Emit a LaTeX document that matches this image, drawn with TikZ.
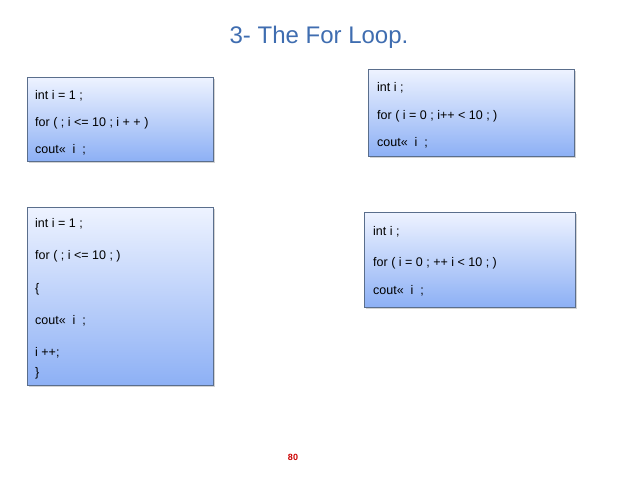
\documentclass[tikz,border=0pt]{standalone}
\usepackage{fontspec}
\setmainfont{Liberation Sans}
\usetikzlibrary{shadows}
\definecolor{bord}{HTML}{5A6E8C}
\definecolor{topc}{HTML}{EEF3FF}
\definecolor{botc}{HTML}{8DB0F5}
\definecolor{titc}{HTML}{3F6DB0}
\tikzset{
 codebox/.style={draw=bord,line width=0.8pt,top color=topc,bottom color=botc,drop shadow={opacity=0.35,shadow xshift=2pt,shadow yshift=-2pt},inner sep=0pt},
 codeline/.style={anchor=west,inner sep=0pt,font=\fontsize{12.5}{14}\selectfont}
}
\begin{document}
\begin{tikzpicture}[x=1pt,y=-1pt]
\useasboundingbox (0,0) rectangle (638,479);
\node[font=\fontsize{24}{28}\selectfont,text=titc] (title) at (319,37) {3- The For Loop.};
\node[codebox,minimum width=186pt,minimum height=84pt] (b1) at (120,119) {};
\node[codebox,minimum width=206pt,minimum height=87pt] (b2) at (471,112.5) {};
\node[codebox,minimum width=186pt,minimum height=178pt] (b3) at (120,296) {};
\node[codebox,minimum width=211pt,minimum height=95pt] (b4) at (469.5,259.5) {};
\node[codeline] (t11) at (35,96) {int i = 1 ;};
\node[codeline] (t12) at (35,123) {for ( ; i <= 10 ; i + + )};
\node[codeline] (t13) at (35,150) {cout<<~ i ~;};
\node[codeline] (t21) at (377,88) {int i ;};
\node[codeline] (t22) at (377,116) {for ( i = 0 ; i++ < 10 ; )};
\node[codeline] (t23) at (377,143) {cout<<~ i ~;};
\node[codeline] (t31) at (35,224) {int i = 1 ;};
\node[codeline] (t32) at (35,256) {for ( ; i <= 10 ; )};
\node[codeline] (t33) at (35,289) {\{};
\node[codeline] (t34) at (35,321) {cout<<~ i ~;};
\node[codeline] (t35) at (35,353) {i ++;};
\node[codeline] (t36) at (35,373) {\}};
\node[codeline] (t41) at (373,232) {int i ;};
\node[codeline] (t42) at (373,263) {for ( i = 0 ; ++ i < 10 ; )};
\node[codeline] (t43) at (373,291) {cout<<~ i ~;};
\node[font=\bfseries\fontsize{9}{10}\selectfont,text=red!80!black] (pg) at (293,457) {80};
\end{tikzpicture}
\end{document}
